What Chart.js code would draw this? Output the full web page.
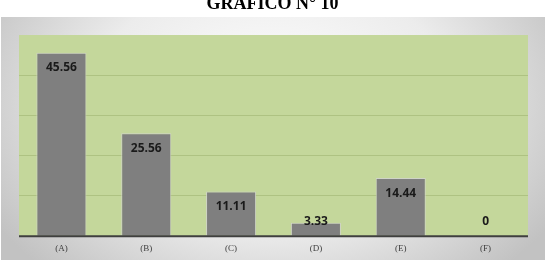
<!DOCTYPE html>
<html>
<head>
<meta charset="utf-8">
<script src="https://cdn.jsdelivr.net/npm/chart.js@4.4.1/dist/chart.umd.min.js"></script>
<style>
html,body{margin:0;padding:0;background:#fff;}
#wrap{position:relative;width:545px;height:264px;}
#title{position:absolute;left:0;width:545px;top:-6px;text-align:center;font:bold 18px "Liberation Serif","Times New Roman",serif;color:#000;line-height:18px;z-index:2;}
canvas{position:absolute;left:0;top:0;}
</style>
</head>
<body>
<div id="wrap">
<div id="title">GRAFICO N° 10</div>
<canvas id="c" width="545" height="264"></canvas>
</div>
<script>
const categories = ["(A)", "(B)", "(C)", "(D)", "(E)", "(F)"];
const values = [45.56, 25.56, 11.11, 3.33, 14.44, 0];
const valueLabels = ["45.56", "25.56", "11.11", "3.33", "14.44", "0"];
const yMin = 0, yMax = 50, yStep = 10;

const bgPlugin = {
  id: 'bg',
  beforeDraw(chart) {
    const ctx = chart.ctx;
    const W = chart.width, H = chart.height;
    ctx.save();
    ctx.fillStyle = '#ffffff';
    ctx.fillRect(0, 0, W, H);
    const fx = 1, fy = 17, fw = W - 1, fh = 243;
    const cx = fx + fw / 2, cy = fy + fh * 0.35;
    ctx.save();
    ctx.beginPath();
    ctx.rect(fx, fy, fw, fh);
    ctx.clip();
    ctx.translate(cx, cy);
    ctx.scale(1, fh / fw * 1.6);
    const g = ctx.createRadialGradient(0, 0, 0, 0, 0, fw * 0.6);
    g.addColorStop(0, '#ffffff');
    g.addColorStop(0.55, '#ececec');
    g.addColorStop(1, '#c2c2c2');
    ctx.fillStyle = g;
    ctx.fillRect(-fw, -fw * 2, fw * 2, fw * 4);
    ctx.restore();
    const a = chart.chartArea;
    ctx.fillStyle = '#c4d79b';
    ctx.fillRect(a.left, a.top, a.right - a.left, a.bottom - a.top);
    ctx.restore();
  }
};

const labelPlugin = {
  id: 'vlabels',
  afterDatasetsDraw(chart) {
    const ctx = chart.ctx;
    const meta = chart.getDatasetMeta(0);
    const base = chart.scales.y.getPixelForValue(0);
    ctx.save();
    ctx.font = 'bold 12px "Open Sans", sans-serif';
    ctx.fillStyle = '#1a1a1a';
    ctx.textAlign = 'center';
    ctx.textBaseline = 'middle';
    meta.data.forEach((bar, i) => {
      const y = Math.min(bar.y + 15, base - 14.5);
      ctx.fillText(valueLabels[i], bar.x, y);
    });
    ctx.restore();
  }
};

const baselinePlugin = {
  id: 'baseline',
  afterDatasetsDraw(chart) {
    const ctx = chart.ctx;
    const a = chart.chartArea;
    const y = chart.scales.y.getPixelForValue(0);
    ctx.save();
    ctx.strokeStyle = '#3f3f3f';
    ctx.lineWidth = 2;
    ctx.beginPath();
    ctx.moveTo(a.left, y);
    ctx.lineTo(a.right, y);
    ctx.stroke();
    ctx.restore();
  }
};

new Chart(document.getElementById('c'), {
  type: 'bar',
  data: {
    labels: categories,
    datasets: [{
      data: values,
      backgroundColor: '#7f7f7f',
      borderColor: 'rgba(210,210,210,0.8)',
      borderWidth: 1,
      categoryPercentage: 0.59,
      barPercentage: 1.0
    }]
  },
  options: {
    responsive: false,
    animation: false,
    devicePixelRatio: 1,
    layout: { padding: { left: 19, right: 17, top: 35, bottom: 3 } },
    plugins: { legend: { display: false }, tooltip: { enabled: false } },
    scales: {
      x: {
        grid: { display: false, drawTicks: false },
        border: { display: false },
        ticks: {
          padding: 7,
          color: '#404040',
          font: { family: '"Liberation Serif", "Times New Roman", serif', size: 9 }
        }
      },
      y: {
        min: yMin, max: yMax,
        ticks: { display: false, stepSize: yStep },
        grid: {
          color: (c) => (c.tick && c.tick.value === yMax) ? 'rgba(0,0,0,0)' : '#aec282',
          lineWidth: 1, drawTicks: false
        },
        border: { display: false }
      }
    }
  },
  plugins: [bgPlugin, labelPlugin, baselinePlugin]
});
</script>
</body>
</html>
